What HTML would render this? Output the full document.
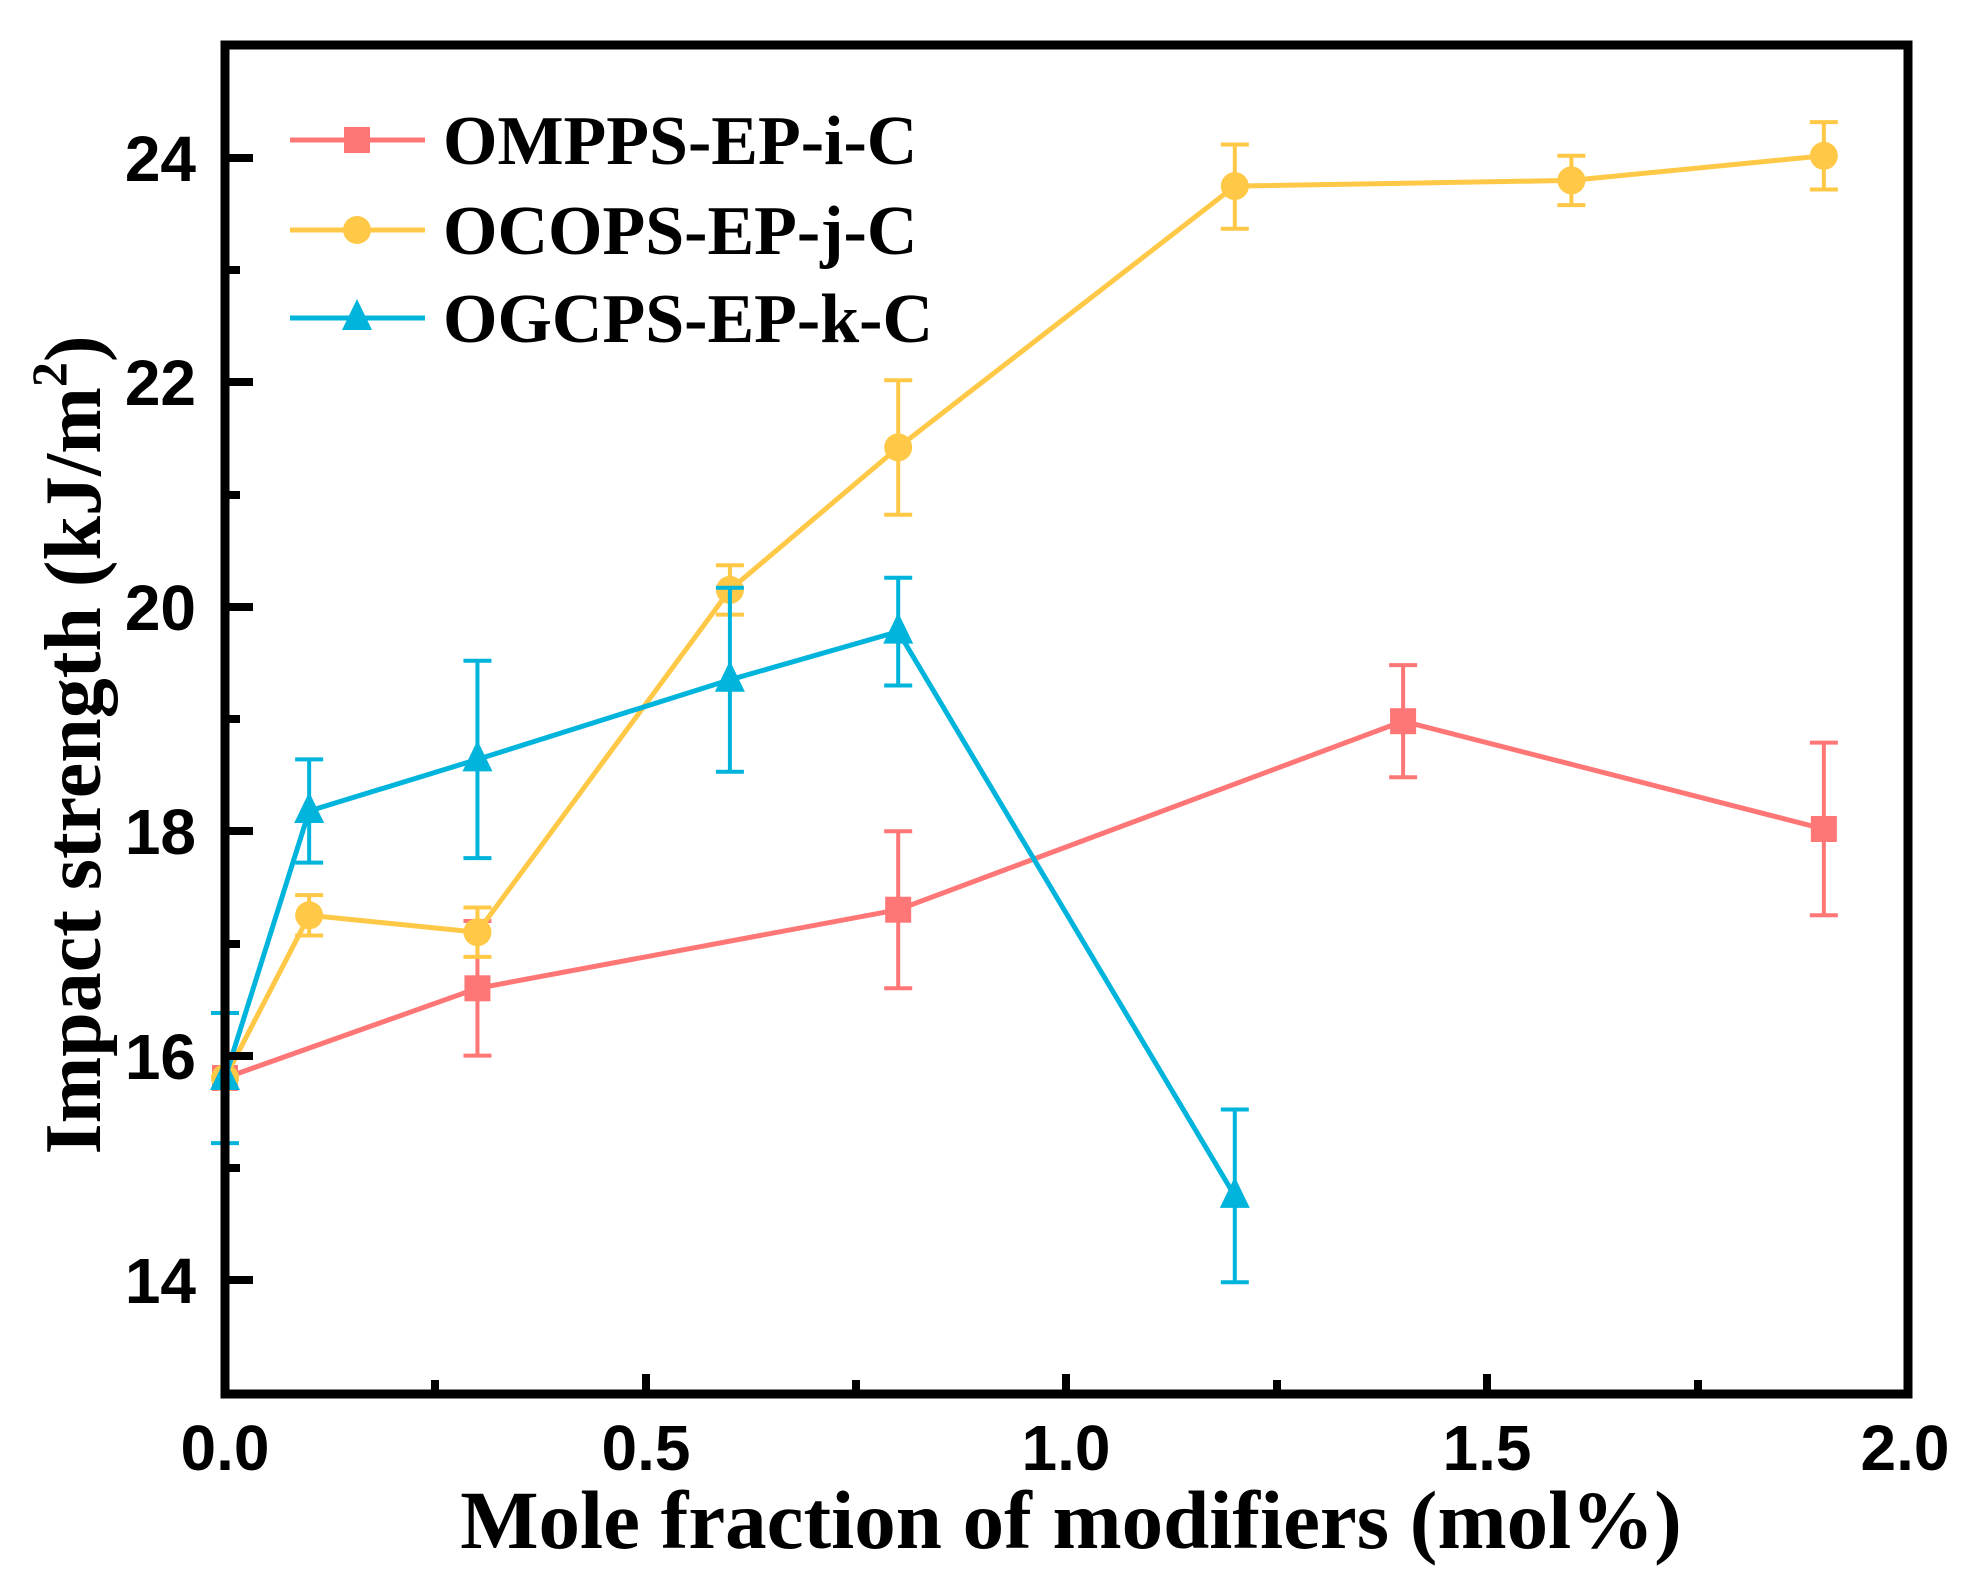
<!DOCTYPE html>
<html><head><meta charset="utf-8"><style>html,body{margin:0;padding:0;background:#fff}</style></head>
<body>
<svg width="1976" height="1577" viewBox="0 0 1976 1577" xmlns="http://www.w3.org/2000/svg">
<rect width="1976" height="1577" fill="#fff"/>
<!-- red -->
<g stroke="#FF7676" stroke-width="4" fill="none">
<polyline stroke-width="5" points="225,1078 477.45,988.3 898.2,909.7 1403.1,721.2 1823.85,829"/>
<path d="M477.45 921V1055.6M463.45 921H491.45M463.45 1055.6H491.45
M898.2 831.2V988.3M884.2 831.2H912.2M884.2 988.3H912.2
M1403.1 665.1V777.3M1389.1 665.1H1417.1M1389.1 777.3H1417.1
M1823.85 742.6V915.3M1809.85 742.6H1837.85M1809.85 915.3H1837.85"/>
</g>
<g fill="#FF7676">
<rect x="212" y="1065" width="26" height="26"/><rect x="464.45" y="975.3" width="26" height="26"/>
<rect x="885.2" y="896.7" width="26" height="26"/><rect x="1390.1" y="708.2" width="26" height="26"/>
<rect x="1810.85" y="816" width="26" height="26"/>
</g>
<!-- yellow -->
<g stroke="#FFC846" stroke-width="4" fill="none">
<polyline stroke-width="5" points="225,1078 309.15,915.3 477.45,932.2 729.9,589.9 898.2,447.4 1234.8,186.1 1571.4,180.4 1823.85,155.8"/>
<path d="M309.15 895.1V935.5M295.15 895.1H323.15M295.15 935.5H323.15
M477.45 907.5V956.9M463.45 907.5H491.45M463.45 956.9H491.45
M729.9 565.3V614.6M715.9 565.3H743.9M715.9 614.6H743.9
M898.2 380.2V514.7M884.2 380.2H912.2M884.2 514.7H912.2
M1234.8 144.5V228.8M1220.8 144.5H1248.8M1220.8 228.8H1248.8
M1571.4 155.8V205.1M1557.4 155.8H1585.4M1557.4 205.1H1585.4
M1823.85 122.1V189.5M1809.85 122.1H1837.85M1809.85 189.5H1837.85"/>
</g>
<g fill="#FFC846">
<circle cx="225" cy="1078" r="14"/><circle cx="309.15" cy="915.3" r="14"/><circle cx="477.45" cy="932.2" r="14"/>
<circle cx="729.9" cy="589.9" r="14"/><circle cx="898.2" cy="447.4" r="14"/><circle cx="1234.8" cy="186.1" r="14"/>
<circle cx="1571.4" cy="180.4" r="14"/><circle cx="1823.85" cy="155.8" r="14"/>
</g>
<!-- blue -->
<g stroke="#00B4DC" stroke-width="4" fill="none">
<polyline stroke-width="5" points="225,1078 309.15,811 477.45,759.4 729.9,679.8 898.2,631.6 1234.8,1195.9"/>
<path d="M225 1013V1143.1M211 1013H239M211 1143.1H239
M309.15 759.4V862.6M295.15 759.4H323.15M295.15 862.6H323.15
M477.45 660.7V858.1M463.45 660.7H491.45M463.45 858.1H491.45
M729.9 587.7V771.8M715.9 587.7H743.9M715.9 771.8H743.9
M898.2 577.7V685.5M884.2 577.7H912.2M884.2 685.5H912.2
M1234.8 1109.5V1282.3M1220.8 1109.5H1248.8M1220.8 1282.3H1248.8"/>
</g>
<g fill="#00B4DC">
<polygon points="225,1059 240,1090 210,1090"/>
<polygon points="309.15,792 324.15,823 294.15,823"/>
<polygon points="477.45,740.4 492.45,771.4 462.45,771.4"/>
<polygon points="729.9,660.8 744.9,691.8 714.9,691.8"/>
<polygon points="898.2,612.6 913.2,643.6 883.2,643.6"/>
<polygon points="1234.8,1176.9 1249.8,1207.9 1219.8,1207.9"/>
</g>
<!-- axes box -->
<rect x="225" y="45" width="1683" height="1349" fill="none" stroke="#000" stroke-width="9"/>
<g stroke="#000" stroke-width="8">
<line x1="435" y1="1394" x2="435" y2="1380"/>
<line x1="646" y1="1394" x2="646" y2="1374"/><line x1="856" y1="1394" x2="856" y2="1380"/>
<line x1="1066" y1="1394" x2="1066" y2="1374"/><line x1="1277" y1="1394" x2="1277" y2="1380"/>
<line x1="1487" y1="1394" x2="1487" y2="1374"/><line x1="1698" y1="1394" x2="1698" y2="1380"/>
<line x1="225" y1="158" x2="253" y2="158"/><line x1="225" y1="270" x2="240" y2="270"/>
<line x1="225" y1="382" x2="253" y2="382"/><line x1="225" y1="495" x2="240" y2="495"/>
<line x1="225" y1="607" x2="253" y2="607"/><line x1="225" y1="719" x2="240" y2="719"/>
<line x1="225" y1="831" x2="253" y2="831"/><line x1="225" y1="944" x2="240" y2="944"/>
<line x1="225" y1="1056" x2="253" y2="1056"/><line x1="225" y1="1168" x2="240" y2="1168"/>
<line x1="225" y1="1280" x2="253" y2="1280"/>
</g>
<g font-family="Liberation Sans, sans-serif" font-weight="bold" font-size="64" fill="#000">
<g text-anchor="end">
<text x="196" y="181">24</text><text x="196" y="405">22</text><text x="196" y="630">20</text>
<text x="196" y="854">18</text><text x="196" y="1079">16</text><text x="196" y="1303">14</text>
</g>
<g text-anchor="middle">
<text x="225" y="1470">0.0</text><text x="646" y="1470">0.5</text><text x="1066" y="1470">1.0</text>
<text x="1487" y="1470">1.5</text><text x="1905" y="1470">2.0</text>
</g>
</g>
<text x="1071" y="1548" text-anchor="middle" font-family="Liberation Serif, serif" font-weight="bold" font-size="83">Mole fraction of modifiers (mol%)</text>
<text transform="translate(100,745) rotate(-90)" text-anchor="middle" font-family="Liberation Serif, serif" font-weight="bold" font-size="80">Impact strength (kJ/m<tspan dy="-34" font-size="50">2</tspan><tspan dy="34">)</tspan></text>
<g font-family="Liberation Serif, serif" font-weight="bold" font-size="70" fill="#000">
<line x1="290" y1="140" x2="425" y2="140" stroke="#FF7676" stroke-width="5"/>
<rect x="344" y="127" width="26" height="26" fill="#FF7676"/>
<text x="443" y="164">OMPPS-EP-i-C</text>
<line x1="290" y1="230" x2="425" y2="230" stroke="#FFC846" stroke-width="5"/>
<circle cx="357" cy="230" r="14" fill="#FFC846"/>
<text x="443" y="254">OCOPS-EP-j-C</text>
<line x1="290" y1="318" x2="425" y2="318" stroke="#00B4DC" stroke-width="5"/>
<polygon points="357,299 372,330 342,330" fill="#00B4DC"/>
<text x="443" y="342">OGCPS-EP-k-C</text>
</g>
</svg>
</body></html>
